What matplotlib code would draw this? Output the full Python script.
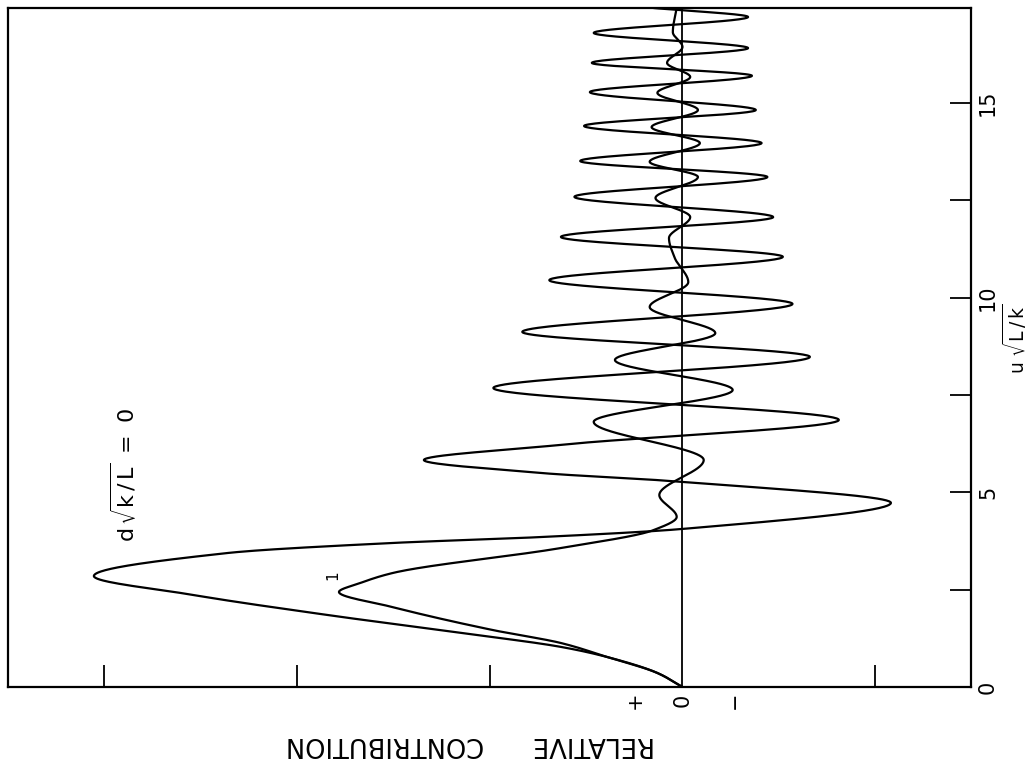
import numpy as np
import matplotlib
matplotlib.use("Agg")
import matplotlib.pyplot as plt
from matplotlib import transforms
from matplotlib.ticker import FixedLocator

plt.rcParams['font.family'] = ['DejaVu Sans']
plt.rcParams['mathtext.fontset'] = 'dejavusans'

# ---- data (u sqrt(L/k) , relative contribution) ----
u_d0 = [0, 0.36, 0.77, 1.03, 1.39, 1.85, 2.36, 2.85, 3.44, 3.70, 3.85, 4.06,
        4.73, 5.27, 5.50, 5.83, 6.22, 6.86, 7.68, 8.48, 9.12, 9.84, 10.45,
        11.05, 11.56, 12.07, 12.59, 13.10, 13.51, 13.97, 14.41, 14.82, 15.28,
        15.70, 16.03, 16.41, 16.80, 17.21, 17.44]
c_d0 = [0, 0.13, 0.39, 0.63, 1.15, 1.84, 2.53, 3.05, 2.36, 1.50, 0.74, 0.0,
        -1.08, 0.0, 0.74, 1.34, 0.63, -0.81, 0.98, -0.66, 0.83, -0.57, 0.69,
        -0.52, 0.63, -0.47, 0.56, -0.44, 0.53, -0.41, 0.51, -0.38, 0.48,
        -0.36, 0.47, -0.34, 0.46, -0.34, 0.15]

u_d1 = [0, 0.36, 0.77, 1.13, 1.46, 2.05, 2.44, 2.67, 2.93, 3.57, 4.03, 4.37,
        4.93, 5.83, 6.81, 7.63, 8.40, 9.09, 9.76, 10.40, 11.02, 11.53, 12.07,
        12.56, 13.10, 13.49, 13.97, 14.38, 14.82, 15.26, 15.67, 16.03, 16.44,
        16.82, 17.44]
c_d1 = [0, 0.13, 0.39, 0.63, 0.98, 1.50, 1.78, 1.67, 1.50, 0.63, 0.15, 0.03,
        0.12, -0.11, 0.46, -0.26, 0.35, -0.17, 0.17, -0.03, 0.04, 0.07, -0.04,
        0.14, -0.08, 0.17, -0.09, 0.16, -0.08, 0.13, -0.04, 0.08, 0.0,
        0.05, 0.03]

u_ticks = [0, 5, 10, 15]
u_minor = [2.5, 7.5, 12.5]
c_ticks = [-1, 1, 2, 3]


def smooth(x, y, n=1500):
    # monotone cubic (pchip) drawing of the read points
    x = np.asarray(x, float); y = np.asarray(y, float)
    h = np.diff(x); d = np.diff(y) / h
    m = np.zeros_like(y)
    for k in range(1, len(x) - 1):
        if d[k - 1] * d[k] > 0:
            w1 = 2 * h[k] + h[k - 1]
            w2 = h[k] + 2 * h[k - 1]
            m[k] = (w1 + w2) / (w1 / d[k - 1] + w2 / d[k])
    m[0] = d[0]; m[-1] = d[-1]
    xs = np.linspace(x[0], x[-1], n)
    i = np.clip(np.searchsorted(x, xs) - 1, 0, len(x) - 2)
    t = (xs - x[i]) / h[i]
    h00 = 2 * t**3 - 3 * t**2 + 1
    h10 = t**3 - 2 * t**2 + t
    h01 = -2 * t**3 + 3 * t**2
    h11 = t**3 - t**2
    ys = h00 * y[i] + h10 * h[i] * m[i] + h01 * y[i + 1] + h11 * h[i] * m[i + 1]
    return xs, ys


fig = plt.figure(figsize=(10.3, 7.6), dpi=100)
ax = fig.add_axes([8 / 1030, 1 - 687 / 760, (971 - 8) / 1030, (687 - 8) / 760])

for uu, cc in [(u_d0, c_d0), (u_d1, c_d1)]:
    us, cs = smooth(uu, cc)
    ax.plot(cs, us, color='black', lw=1.6, solid_capstyle='round')

ax.axvline(0, color='black', lw=1.3)

ax.set_xlim(3.495, -1.495)
ax.set_ylim(0, 17.44)

for s in ax.spines.values():
    s.set_linewidth(1.6)

ax.xaxis.set_major_locator(FixedLocator(c_ticks))
ax.tick_params(axis='x', direction='in', length=16, width=1.3, labelbottom=False)

ax.yaxis.tick_right()
ax.yaxis.set_major_locator(FixedLocator(u_ticks))
ax.yaxis.set_minor_locator(FixedLocator(u_minor))
ax.tick_params(axis='y', which='both', direction='in', length=15, width=1.3,
               left=False, right=True)
ax.tick_params(axis='y', which='major', labelsize=15, labelrotation=90, pad=5)
ax.set_yticklabels([str(t) for t in u_ticks])
for lab in ax.get_yticklabels():
    lab.set_va('center')

# axis annotations
tr = transforms.blended_transform_factory(ax.transData, ax.transAxes)
for val, s in [(0.245, '+'), (0.0, '0'), (-0.27, '\u2212')]:
    ax.text(val, -0.019, s, transform=tr, rotation=90, ha='center', va='center',
            fontsize=15)
ax.text(1.1, -0.084, 'RELATIVE      CONTRIBUTION', transform=tr, rotation=180,
        ha='center', va='center', fontsize=18.5)

tr2 = transforms.blended_transform_factory(ax.transAxes, ax.transData)
ax.text(1.0457, 8.94, r'$\mathrm{u}\ \sqrt{\mathrm{L}\,/\,\mathrm{k}}$', transform=tr2,
        rotation=90, ha='center', va='center', fontsize=13.5)

ax.text(2.90, 5.45, r'$\mathrm{d}\,\sqrt{\mathrm{k}\,/\,\mathrm{L}}\ =\ 0$',
        rotation=90, ha='center', va='center', fontsize=16)
ax.text(1.81, 2.88, '1', rotation=90, ha='center', va='center', fontsize=11)

fig.savefig('out.png', dpi=100)
